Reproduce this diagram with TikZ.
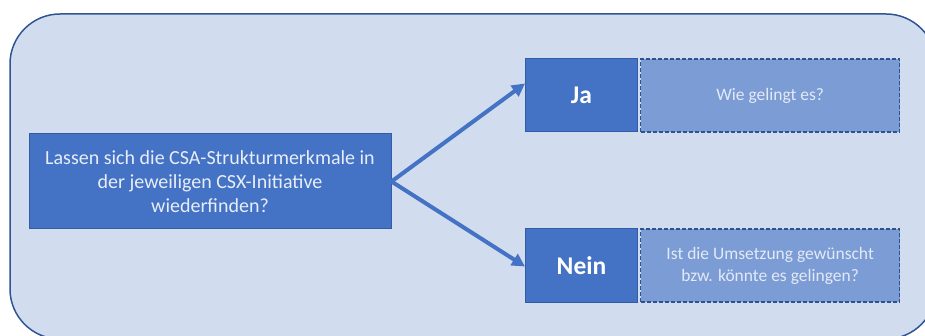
\documentclass[tikz,border=0pt]{standalone}
\usepackage{fontspec}
\setmainfont{Carlito}
\usetikzlibrary{positioning,arrows.meta}

\definecolor{hintergrund}{RGB}{209,220,238}
\definecolor{rahmen}{RGB}{47,85,151}
\definecolor{kasten}{RGB}{68,114,196}
\definecolor{kastenrand}{RGB}{52,92,165}
\definecolor{antwort}{RGB}{124,156,213}
\definecolor{antwortrand}{RGB}{47,82,143}
\definecolor{hellschrift}{RGB}{232,238,248}

\begin{document}
\begin{tikzpicture}[x=1pt,y=-1pt]
	\tikzstyle{frage box}=[rectangle,fill=kasten,draw=kastenrand,line width=1pt,text=hellschrift,align=center,inner sep=0pt]
	\tikzstyle{entscheidung box}=[frage box,minimum width=112pt,minimum height=73pt,font=\fontsize{25.5}{30}\selectfont\bfseries,text=white]
	\tikzstyle{antwort box}=[rectangle,fill=antwort,draw=antwortrand,line width=1.3pt,dash pattern=on 4pt off 2pt,minimum width=259pt,minimum height=73pt,inner sep=0pt,align=center,text=hellschrift!95!antwort,font=\fontsize{17.5}{22}\selectfont]
	\tikzstyle{pfeil}=[draw=kasten,line width=4pt,-{Triangle[length=13pt,width=13pt]},shorten >=0pt]

	\useasboundingbox (0,0) rectangle (925,336);
	\clip (0,0) rectangle (925,336);

	% Draw the background panel
	\draw[fill=hintergrund,draw=rahmen,line width=1.5pt,rounded corners=50pt] (10,14) rectangle (936,339);

	% Draw the question box
	\node[frage box,minimum width=362pt,minimum height=95pt,font=\fontsize{20}{24}\selectfont] (frage) at (210,181.5)
		{Lassen sich die CSA-Strukturmerkmale in\\der jeweiligen CSX-Initiative\\wiederfinden?};

	% Draw the decision boxes
	\node[entscheidung box] (ja) at (581.5,95.5) {Ja};
	\node[entscheidung box] (nein) at (581.5,265.5) {Nein};

	% Draw the answer boxes
	\node[antwort box,right=2pt of ja] (wie) {Wie gelingt es?};
	\node[antwort box,right=2pt of nein] (umsetzung) {Ist die Umsetzung gewünscht\\bzw. könnte es gelingen?};

	% Connect the question with both decisions
	\draw[pfeil] (frage.east) -- ([yshift=12pt]ja.west);
	\draw[pfeil] (frage.east) -- ([yshift=-1pt]nein.west);

\end{tikzpicture}
\end{document}
